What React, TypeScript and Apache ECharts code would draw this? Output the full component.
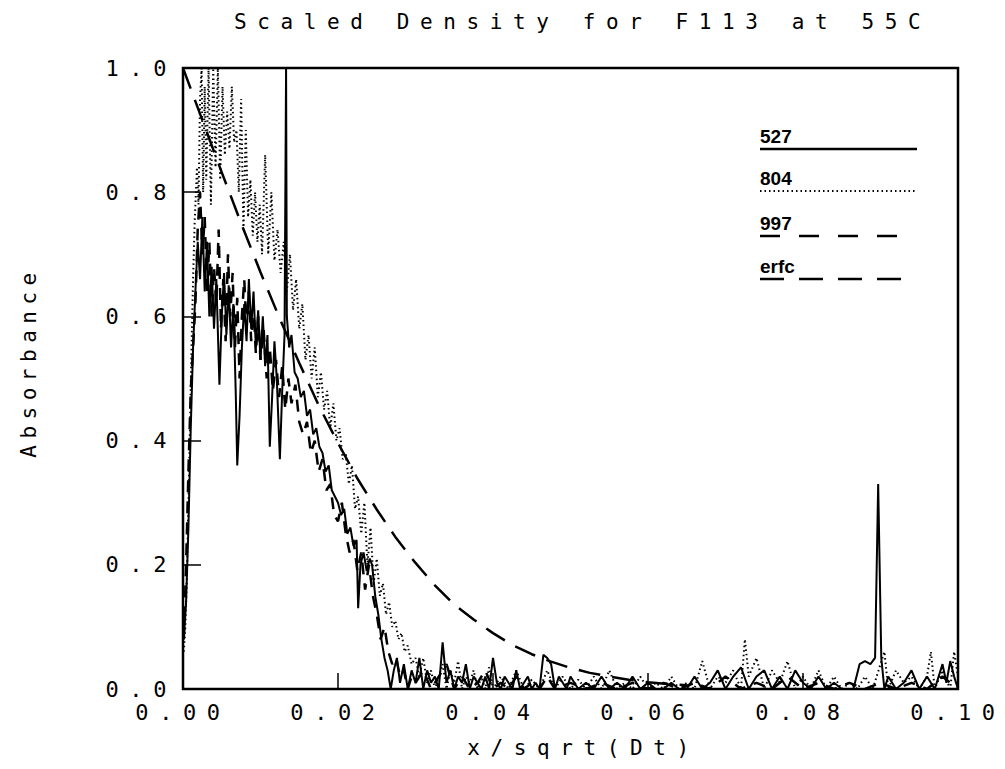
import React, { useEffect, useRef } from "react";
import * as echarts from "echarts";

const TITLE = "Scaled Density for F113 at 55C";
const X_NAME = "x/sqrt(Dt)";
const Y_NAME = "Absorbance";
const LEGEND_NAMES = ["527", "804", "997", "erfc"];

// run 527 (solid)
const s527: [number, number][] = [
  [0.0001, 0.08], [0.0004, 0.14], [0.0007, 0.26], [0.001, 0.42], [0.0013, 0.55], [0.0016, 0.64],
  [0.0019, 0.72], [0.0022, 0.66], [0.0025, 0.76], [0.0028, 0.64], [0.0031, 0.72], [0.0034, 0.6],
  [0.0037, 0.68], [0.004, 0.58], [0.0043, 0.66], [0.0047, 0.49], [0.005, 0.6], [0.0053, 0.67],
  [0.0056, 0.57], [0.0059, 0.65], [0.0062, 0.55], [0.0065, 0.62], [0.0068, 0.48], [0.007, 0.36],
  [0.0073, 0.44], [0.0076, 0.55], [0.0079, 0.62], [0.0082, 0.56], [0.0085, 0.66], [0.0088, 0.58],
  [0.0091, 0.64], [0.0094, 0.55], [0.0097, 0.61], [0.01, 0.53], [0.0103, 0.6], [0.0106, 0.52],
  [0.0109, 0.57], [0.0112, 0.39], [0.0115, 0.47], [0.0118, 0.56], [0.0121, 0.5], [0.0125, 0.37],
  [0.0128, 0.48], [0.0131, 0.57], [0.0133, 1.0], [0.0134, 0.6], [0.0137, 0.55], [0.014, 0.57],
  [0.0144, 0.51], [0.0148, 0.5], [0.0152, 0.47], [0.0156, 0.48], [0.016, 0.44], [0.0164, 0.45],
  [0.0168, 0.41], [0.0172, 0.42], [0.0176, 0.39], [0.018, 0.38], [0.0184, 0.35], [0.0188, 0.36],
  [0.0192, 0.32], [0.0196, 0.31], [0.02, 0.3], [0.0204, 0.28], [0.0208, 0.29], [0.0212, 0.25],
  [0.0216, 0.26], [0.022, 0.23], [0.0224, 0.24], [0.0226, 0.13], [0.0229, 0.2], [0.0233, 0.22],
  [0.0237, 0.19], [0.0241, 0.21], [0.0244, 0.2], [0.0248, 0.15], [0.0252, 0.12], [0.0256, 0.08],
  [0.026, 0.05], [0.0264, 0.03], [0.0268, 0.0], [0.0272, 0.03], [0.0276, 0.05], [0.028, 0.01],
  [0.0285, 0.04], [0.029, 0.0], [0.0295, 0.03], [0.03, 0.01], [0.0305, 0.05], [0.031, 0.0],
  [0.0315, 0.03], [0.032, 0.01], [0.0325, 0.02], [0.033, 0.0], [0.0335, 0.075], [0.034, 0.01],
  [0.0345, 0.03], [0.035, 0.0], [0.0355, 0.02], [0.036, 0.01], [0.0365, 0.04], [0.037, 0.0],
  [0.0375, 0.02], [0.038, 0.01], [0.0385, 0.0], [0.039, 0.02], [0.0395, 0.0], [0.04, 0.05],
  [0.0405, 0.01], [0.041, 0.0], [0.0415, 0.02], [0.042, 0.01], [0.0425, 0.0], [0.043, 0.03],
  [0.0435, 0.0], [0.044, 0.01], [0.0445, 0.02], [0.045, 0.0], [0.0455, 0.01], [0.046, 0.0],
  [0.0465, 0.055], [0.047, 0.05], [0.0475, 0.04], [0.048, 0.0], [0.0485, 0.02], [0.049, 0.01],
  [0.0495, 0.0], [0.05, 0.02], [0.051, 0.0], [0.052, 0.01], [0.053, 0.0], [0.054, 0.02],
  [0.055, 0.0], [0.056, 0.01], [0.057, 0.0], [0.058, 0.02], [0.059, 0.0], [0.06, 0.01],
  [0.061, 0.0], [0.062, 0.0], [0.063, 0.01], [0.064, 0.0], [0.065, 0.0], [0.066, 0.02],
  [0.067, 0.0], [0.068, 0.01], [0.069, 0.03], [0.07, 0.0], [0.071, 0.02], [0.072, 0.035],
  [0.073, 0.0], [0.074, 0.02], [0.075, 0.03], [0.076, 0.0], [0.077, 0.02], [0.078, 0.0],
  [0.079, 0.03], [0.08, 0.01], [0.081, 0.0], [0.082, 0.02], [0.083, 0.0], [0.084, 0.01],
  [0.085, 0.0], [0.0865, 0.0], [0.0873, 0.04], [0.088, 0.045], [0.0887, 0.04], [0.0893, 0.05],
  [0.0897, 0.33], [0.0901, 0.05], [0.0905, 0.0], [0.091, 0.02], [0.092, 0.0], [0.093, 0.01],
  [0.094, 0.03], [0.095, 0.0], [0.096, 0.02], [0.097, 0.0], [0.098, 0.04], [0.0985, 0.01],
  [0.099, 0.045], [0.0995, 0.02], [0.1, 0.0],
];

// run 804 (dotted)
const s804: [number, number][] = [
  [0.0001, 0.06], [0.0003, 0.1], [0.0005, 0.18], [0.0007, 0.3], [0.0009, 0.42], [0.0011, 0.55],
  [0.0013, 0.66], [0.0015, 0.75], [0.0018, 0.84], [0.002, 0.78], [0.0022, 0.95], [0.0024, 1.0],
  [0.0026, 0.8], [0.0028, 0.97], [0.003, 0.82], [0.0033, 1.0], [0.0036, 0.78], [0.0039, 1.0],
  [0.0042, 0.84], [0.0045, 1.0], [0.0048, 0.82], [0.0051, 0.97], [0.0054, 0.86], [0.0057, 0.93],
  [0.006, 0.87], [0.0063, 0.97], [0.0066, 0.88], [0.0069, 0.9], [0.0072, 0.8], [0.0075, 0.95],
  [0.0078, 0.74], [0.0081, 0.9], [0.0084, 0.76], [0.0087, 0.82], [0.009, 0.73], [0.0093, 0.8],
  [0.0096, 0.72], [0.0099, 0.78], [0.0102, 0.7], [0.0106, 0.86], [0.011, 0.7], [0.0114, 0.8],
  [0.0118, 0.69], [0.0122, 0.74], [0.0126, 0.67], [0.013, 0.72], [0.0134, 0.64], [0.0138, 0.7],
  [0.0142, 0.61], [0.0146, 0.66], [0.015, 0.58], [0.0154, 0.62], [0.0158, 0.53], [0.0162, 0.57],
  [0.0166, 0.5], [0.017, 0.55], [0.0174, 0.47], [0.0178, 0.51], [0.0182, 0.45], [0.0186, 0.48],
  [0.019, 0.42], [0.0194, 0.46], [0.0198, 0.4], [0.0202, 0.42], [0.0206, 0.37], [0.021, 0.38],
  [0.0214, 0.33], [0.0218, 0.36], [0.0222, 0.29], [0.0226, 0.31], [0.023, 0.25], [0.0234, 0.3],
  [0.0238, 0.2], [0.0242, 0.26], [0.0246, 0.17], [0.025, 0.21], [0.0254, 0.15], [0.0258, 0.17],
  [0.0262, 0.12], [0.0266, 0.14], [0.027, 0.1], [0.0274, 0.11], [0.0278, 0.08], [0.0282, 0.09],
  [0.0286, 0.06], [0.029, 0.07], [0.0295, 0.04], [0.03, 0.05], [0.0305, 0.02], [0.031, 0.05],
  [0.0315, 0.01], [0.032, 0.03], [0.0325, 0.0], [0.033, 0.02], [0.0335, 0.04], [0.034, 0.0],
  [0.0345, 0.03], [0.035, 0.01], [0.0355, 0.045], [0.036, 0.0], [0.0365, 0.02], [0.037, 0.01],
  [0.0375, 0.03], [0.038, 0.0], [0.0385, 0.02], [0.039, 0.0], [0.0395, 0.035], [0.04, 0.0],
  [0.041, 0.02], [0.042, 0.0], [0.043, 0.03], [0.044, 0.0], [0.045, 0.015], [0.046, 0.0],
  [0.047, 0.03], [0.048, 0.0], [0.049, 0.02], [0.05, 0.0], [0.051, 0.015], [0.052, 0.0],
  [0.053, 0.02], [0.054, 0.0], [0.055, 0.03], [0.056, 0.0], [0.057, 0.01], [0.058, 0.0],
  [0.059, 0.02], [0.06, 0.0], [0.061, 0.01], [0.062, 0.0], [0.063, 0.02], [0.064, 0.0],
  [0.065, 0.01], [0.066, 0.0], [0.067, 0.045], [0.068, 0.0], [0.069, 0.02], [0.07, 0.01],
  [0.071, 0.03], [0.072, 0.0], [0.0725, 0.08], [0.073, 0.02], [0.074, 0.05], [0.075, 0.0],
  [0.076, 0.03], [0.077, 0.01], [0.078, 0.045], [0.079, 0.0], [0.08, 0.02], [0.081, 0.0],
  [0.082, 0.03], [0.083, 0.0], [0.084, 0.02], [0.085, 0.0], [0.086, 0.01], [0.087, 0.0],
  [0.088, 0.02], [0.089, 0.0], [0.0905, 0.06], [0.091, 0.0], [0.092, 0.03], [0.093, 0.01],
  [0.094, 0.02], [0.095, 0.0], [0.096, 0.02], [0.0965, 0.06], [0.097, 0.0], [0.098, 0.03],
  [0.099, 0.0], [0.0995, 0.06], [0.1, 0.02],
];

// run 997 (dashed)
const s997: [number, number][] = [
  [0.0001, 0.08], [0.0004, 0.2], [0.0007, 0.35], [0.001, 0.48], [0.0013, 0.55], [0.0016, 0.62],
  [0.0019, 0.74], [0.0022, 0.8], [0.0025, 0.7], [0.0028, 0.76], [0.0031, 0.64], [0.0034, 0.72],
  [0.0037, 0.6], [0.004, 0.68], [0.0043, 0.62], [0.0046, 0.74], [0.0049, 0.58], [0.0052, 0.66],
  [0.0055, 0.56], [0.0058, 0.7], [0.0061, 0.6], [0.0064, 0.67], [0.0067, 0.55], [0.007, 0.63],
  [0.0073, 0.5], [0.0076, 0.6], [0.0079, 0.66], [0.0082, 0.58], [0.0085, 0.64], [0.0088, 0.56],
  [0.0091, 0.62], [0.0094, 0.54], [0.0097, 0.6], [0.01, 0.53], [0.0104, 0.58], [0.0108, 0.5],
  [0.0112, 0.55], [0.0116, 0.48], [0.012, 0.53], [0.0124, 0.47], [0.0128, 0.52], [0.0132, 0.45],
  [0.0136, 0.5], [0.014, 0.46], [0.0145, 0.49], [0.015, 0.43], [0.0155, 0.41], [0.016, 0.43],
  [0.0165, 0.38], [0.017, 0.4], [0.0175, 0.35], [0.018, 0.37], [0.0185, 0.32], [0.019, 0.33],
  [0.0195, 0.28], [0.02, 0.27], [0.0205, 0.3], [0.021, 0.25], [0.0215, 0.22], [0.022, 0.24],
  [0.0225, 0.19], [0.023, 0.22], [0.0235, 0.16], [0.024, 0.2], [0.0245, 0.15], [0.025, 0.12],
  [0.0255, 0.08], [0.026, 0.1], [0.0265, 0.06], [0.027, 0.04], [0.0275, 0.05], [0.028, 0.02],
  [0.0285, 0.03], [0.029, 0.0], [0.0295, 0.02], [0.03, 0.01], [0.031, 0.03], [0.032, 0.0],
  [0.033, 0.02], [0.034, 0.04], [0.035, 0.0], [0.036, 0.02], [0.037, 0.0], [0.038, 0.01],
  [0.039, 0.03], [0.04, 0.0], [0.041, 0.01], [0.042, 0.0], [0.043, 0.02], [0.044, 0.0],
  [0.045, 0.01], [0.046, 0.0], [0.047, 0.02], [0.048, 0.0], [0.05, 0.01], [0.052, 0.0],
  [0.054, 0.01], [0.056, 0.0], [0.058, 0.01], [0.06, 0.0], [0.062, 0.01], [0.064, 0.0],
  [0.066, 0.01], [0.068, 0.0], [0.07, 0.02], [0.072, 0.0], [0.074, 0.01], [0.076, 0.0],
  [0.078, 0.02], [0.08, 0.0], [0.082, 0.01], [0.084, 0.0], [0.086, 0.01], [0.088, 0.0],
  [0.09, 0.01], [0.092, 0.0], [0.094, 0.01], [0.096, 0.0], [0.098, 0.02], [0.1, 0.0],
];

// erfc reference curve
const erfcX = [
  0, 0.0025, 0.005, 0.0075, 0.01, 0.0125, 0.015, 0.0175, 0.02, 0.0225, 0.025, 0.0275, 0.03,
  0.0325, 0.035, 0.0375, 0.04, 0.0425, 0.045, 0.0475, 0.05, 0.0525, 0.055, 0.0575, 0.06, 0.0625, 0.065,
];
const erfcY = [
  1.0, 0.916, 0.832, 0.75, 0.671, 0.596, 0.525, 0.457, 0.396, 0.339, 0.289, 0.243, 0.203,
  0.167, 0.136, 0.112, 0.09, 0.071, 0.056, 0.044, 0.034, 0.026, 0.02, 0.015, 0.011, 0.008, 0.006,
];

const MONO = "DejaVu Sans Mono";
const MONO_NARROW = "DejaVu Sans Mono, monospace";

export default function App() {
  const ref = useRef<HTMLDivElement>(null);

  useEffect(() => {
    if (!ref.current) return;
    const chart = echarts.init(ref.current, null, { renderer: "svg" });
    const erfcData = erfcX.map((x, i) => [x, erfcY[i]]);
    const legendY = [149, 191, 236, 279];
    const legendEnd = [917, 915, 902, 908];
    const legendDash: any[] = [null, [1.5, 3], [20, 19], [24, 15]];
    const graphics: any[] = [];
    LEGEND_NAMES.forEach((name, i) => {
      graphics.push({
        type: "line",
        shape: { x1: 760, y1: legendY[i], x2: legendEnd[i], y2: legendY[i] },
        style: { stroke: "#000", lineWidth: i === 1 ? 2 : 2.5, lineDash: legendDash[i] || undefined },
        z: 10,
      });
      graphics.push({
        type: "text",
        x: 760,
        y: legendY[i] - 3,
        style: {
          text: name,
          fill: "#000",
          fontFamily: "Liberation Sans",
          fontWeight: "bold",
          fontSize: 19,
          textVerticalAlign: "bottom",
          textAlign: "left",
        },
        z: 10,
      });
    });
    graphics.push({
      type: "text",
      x: 29,
      y: 362,
      rotation: Math.PI / 2,
      style: {
        text: Y_NAME,
        fill: "#000",
        fontFamily: MONO_NARROW,
        fontSize: 21,
        textAlign: "center",
        textVerticalAlign: "middle",
      },
    });

    chart.setOption({
      animation: false,
      backgroundColor: "#fff",
      title: {
        text: TITLE,
        left: 229,
        top: 6,
        textStyle: { fontFamily: MONO, fontSize: 21, fontWeight: "normal", color: "#000" },
      },
      grid: {
        left: 183,
        top: 68,
        right: 47,
        bottom: 80,
        show: true,
        borderColor: "#000",
        borderWidth: 2.5,
      },
      xAxis: {
        type: "value",
        min: 0,
        max: 0.1,
        interval: 0.02,
        name: X_NAME,
        nameLocation: "middle",
        nameGap: 48,
        nameTextStyle: { fontFamily: MONO, fontSize: 21, color: "#000", padding: [0, 0, 0, 26] },
        axisLine: { lineStyle: { color: "#000", width: 2 } },
        axisTick: { inside: true, length: 16, lineStyle: { color: "#000", width: 1.5 } },
        axisLabel: {
          margin: 12,
          fontFamily: MONO,
          fontSize: 22,
          color: "#000",
          formatter: (v: number) => v.toFixed(2),
        },
        splitLine: { show: false },
      },
      yAxis: {
        type: "value",
        min: 0,
        max: 1,
        interval: 0.2,
        axisLine: { lineStyle: { color: "#000", width: 2 } },
        axisTick: { inside: true, length: 18, lineStyle: { color: "#000", width: 1.5 } },
        axisLabel: {
          margin: 6,
          fontFamily: MONO,
          fontSize: 22,
          color: "#000",
          formatter: (v: number) => v.toFixed(1),
        },
        splitLine: { show: false },
      },
      series: [
        {
          name: "527",
          type: "line",
          data: s527,
          showSymbol: false,
          lineStyle: { color: "#000", width: 2 },
        },
        {
          name: "804",
          type: "line",
          data: s804,
          showSymbol: false,
          lineStyle: { color: "#000", width: 2, type: [1.5, 3] },
        },
        {
          name: "997",
          type: "line",
          data: s997,
          showSymbol: false,
          lineStyle: { color: "#000", width: 2.5, type: [12, 9] },
        },
        {
          name: "erfc",
          type: "line",
          data: erfcData,
          showSymbol: false,
          lineStyle: { color: "#000", width: 2.5, type: [22, 12] },
        },
      ],
      graphic: graphics,
    });
    return () => chart.dispose();
  }, []);

  return (
    <>
      <style>{`#plotbox text[style*="DejaVu Sans Mono"]{letter-spacing:10.6px;}
#plotbox text[style*="monospace"]{letter-spacing:6.5px;}`}</style>
      <div
        id="plotbox"
        ref={ref}
        style={{ position: "absolute", left: 0, top: 0, width: 1005, height: 769, background: "#fff" }}
      />
    </>
  );
}
